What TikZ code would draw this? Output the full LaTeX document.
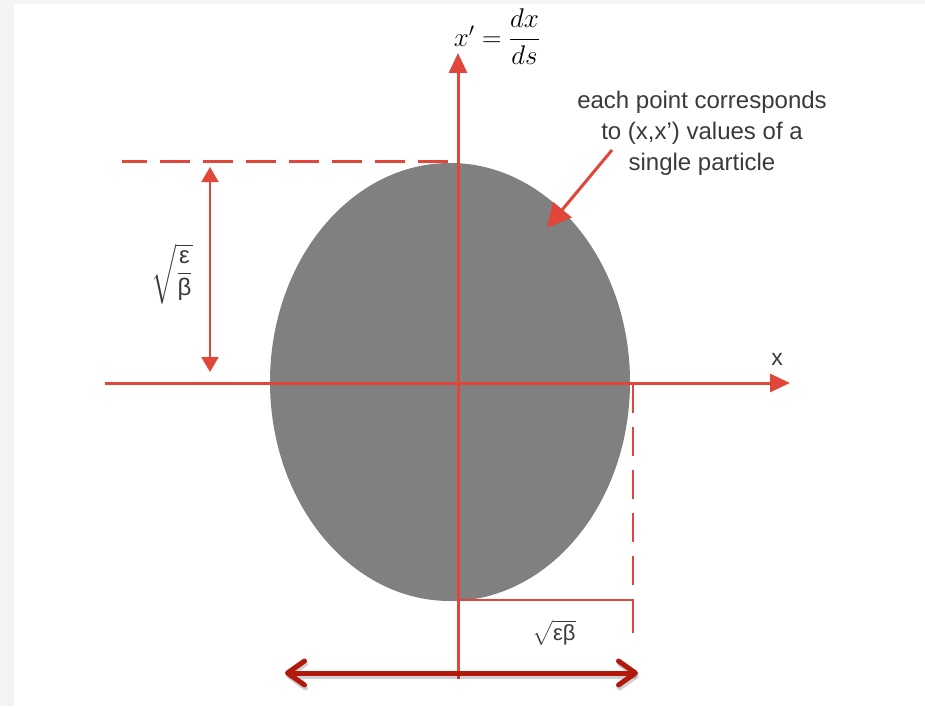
\RequirePackage{fix-cm}
\documentclass[tikz,border=0pt]{standalone}
\usepackage{exscale}
\usepackage{fontspec}
\setmainfont{Liberation Sans}
\usetikzlibrary{arrows.meta}
\definecolor{axred}{RGB}{224,70,58}
\definecolor{darkred}{RGB}{178,24,12}
\definecolor{ellgray}{RGB}{128,128,128}
\definecolor{txtgray}{RGB}{58,58,58}
\definecolor{bggray}{RGB}{244,244,244}
\begin{document}
\begin{tikzpicture}[x=1pt,y=-1pt,
  axisline/.style={draw=axred, line width=3pt, -{Triangle[length=20pt,width=18pt]}},
  dimline/.style={draw=axred, line width=2.5pt},
  lbl/.style={text=txtgray, inner sep=0pt},
]
\fill[bggray] (0,0) rectangle (925,706);
\fill[white] (14,4) rectangle (925,706);
\useasboundingbox (0,0) rectangle (925,706);

% ellipse
\fill[ellgray] (450,382) ellipse [x radius=180, y radius=219];

% axes
\coordinate (xl) at (105,383);
\coordinate (xr) at (790,383);
\coordinate (yb) at (458,679);
\coordinate (yt) at (458,53);
\draw[axisline] (xl) -- (xr);
\draw[axisline] (yb) -- (yt);

\node[lbl, font=\fontsize{23}{26}\selectfont] (xlab) at (777,359) {x};
\node[inner sep=0pt, font=\fontsize{27}{31}\selectfont] (ylab) at (497,37) {$x' = \displaystyle\frac{dx}{ds}$};

% top dashed line and height arrow
\coordinate (dt1) at (122,161);
\coordinate (dt2) at (452,161);
\draw[axred, line width=3pt, dash pattern=on 30pt off 13pt, dash phase=5pt] (dt1) -- (dt2);
\coordinate (ha) at (210,167);
\coordinate (hb) at (210,372);
\draw[axred, line width=2pt, {Triangle[length=15pt,width=17pt]}-{Triangle[length=15pt,width=17pt]}] (ha) -- (hb);
\node[lbl, font=\fontsize{24}{28}\selectfont] (hlab) at (172,274) {$\sqrt{\displaystyle\frac{\mbox{ε}}{\mbox{β}}}$};

% right dashed line and width bracket
\coordinate (v1) at (633,384);
\coordinate (v2) at (633,600);
\coordinate (v3) at (633,633);
\coordinate (b1) at (458,600);
\draw[dimline, dash pattern=on 29pt off 14pt] (v1) -- (v2);
\draw[dimline] (b1) -- (v2) -- (v3);
\node[lbl, font=\fontsize{22}{26}\selectfont, anchor=base] (wlab) at (554,640) {$\sqrt{\mbox{εβ}}$};

% dark red double arrow
\coordinate (d1) at (285,673);
\coordinate (d2) at (638,673);
\draw[black, opacity=0.18, line width=5pt, line cap=round,
  {Straight Barb[length=17pt,width=24pt,line cap=round,line join=round]}-{Straight Barb[length=17pt,width=24pt,line cap=round,line join=round]}]
  ([shift={(1,3)}]d1) -- ([shift={(1,3)}]d2);
\draw[darkred, line width=5pt, line cap=round,
  {Straight Barb[length=17pt,width=24pt,line cap=round,line join=round]}-{Straight Barb[length=17pt,width=24pt,line cap=round,line join=round]}]
  (d1) -- (d2);

% annotation
\node[lbl, align=center, font=\fontsize{24}{31}\selectfont] (note) at (702,133)
  {each point corresponds\\to (x,x') values of a\\single particle};
\coordinate (pa) at (612,150);
\coordinate (pb) at (547,228);
\draw[axred, line width=3pt, -{Triangle[length=24pt,width=24pt]}] (pa) -- (pb);
\end{tikzpicture}
\end{document}
